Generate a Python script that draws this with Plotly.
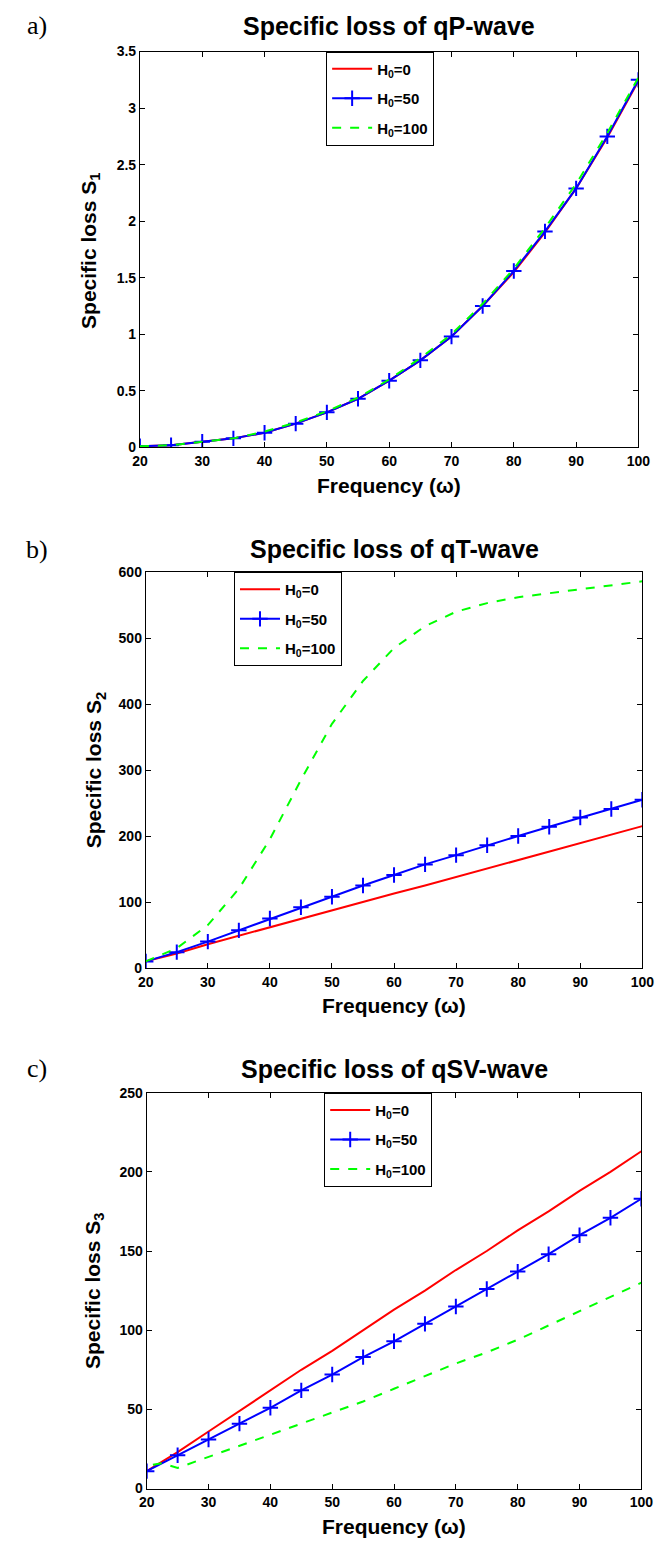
import plotly.graph_objects as go

# ---------------- data ----------------
freq = [20, 25, 30, 35, 40, 45, 50, 55, 60, 65, 70, 75, 80, 85, 90, 95, 100]

# Panel a: specific loss S1 (qP-wave)
s1_h0 = [0.01, 0.02, 0.05, 0.08, 0.13, 0.21, 0.31, 0.43, 0.59, 0.77, 0.98, 1.25, 1.55, 1.90, 2.29, 2.74, 3.24]
s1_h50 = [0.01, 0.02, 0.05, 0.08, 0.13, 0.21, 0.31, 0.43, 0.59, 0.77, 0.98, 1.25, 1.56, 1.91, 2.29, 2.75, 3.25]
s1_h100 = [0.01, 0.02, 0.05, 0.08, 0.14, 0.22, 0.32, 0.44, 0.60, 0.79, 1.00, 1.27, 1.58, 1.94, 2.33, 2.78, 3.27]

# Panel b: specific loss S2 (qT-wave)
s2_h0 = [10, 22, 36, 49, 62, 75, 88, 100, 113, 125, 138, 151, 164, 176, 189, 202, 215]
s2_h50 = [10, 24, 40, 57, 75, 92, 108, 125, 141, 157, 171, 186, 200, 214, 228, 241, 255]
s2_h100 = [10, 30, 65, 120, 195, 285, 370, 435, 485, 518, 540, 553, 562, 568, 574, 580, 586]

# Panel c: specific loss S3 (qSV-wave)
s3_h0 = [11, 23, 36, 49, 62, 75, 87, 100, 113, 125, 138, 150, 163, 175, 188, 200, 213]
s3_h50 = [11, 21, 31, 41, 51, 62, 72, 83, 93, 104, 115, 126, 137, 148, 160, 171, 183]
freq_c_h100 = [21, 22.5, 25, 30, 35, 40, 45, 50, 55, 60, 65, 70, 75, 80, 85, 90, 95, 100]
s3_h100 = [15, 16, 13, 20, 27, 34, 41, 48, 55, 63, 71, 79, 86, 94, 103, 112, 121, 130]

panel_titles = ["Specific loss of qP-wave", "Specific loss of qT-wave", "Specific loss of qSV-wave"]
panel_letters = ["a)", "b)", "c)"]
y_titles = ["Specific loss S<sub>1</sub>", "Specific loss S<sub>2</sub>", "Specific loss S<sub>3</sub>"]
x_title = "Frequency (\u03c9)"
legend_names = ["H<sub>0</sub>=0", "H<sub>0</sub>=50", "H<sub>0</sub>=100"]
y_ranges = [[0, 3.5], [0, 600], [0, 250]]
y_dticks = [0.5, 100, 50]

W, H = 665, 1549
def px_x(v):
    return v / W
def px_y(v):
    return 1 - v / H

# pixel geometry of each panel: left, right, top, bottom
boxes = [(136, 650, 44, 444), (142, 654, 570, 970), (143, 653, 1096, 1496)]
legend_pos = [(328, 44), (233, 570), (326, 1096)]
title_y = [18, 547, 1072]
xtitle_y = [482, 1008, 1534]
ytitle = [(85, 245), (90, 770), (88, 1296)]

TICKF = "Liberation Sans, Arial, Helvetica, sans-serif"
SANS = "Liberation Sans, Arial, Helvetica, sans-serif"
SERIF = "Liberation Serif, Times New Roman, serif"

fig = go.Figure()

data = [
    (freq, s1_h0, freq, s1_h50, freq, s1_h100),
    (freq, s2_h0, freq, s2_h50, freq, s2_h100),
    (freq, s3_h0, freq, s3_h50, freq_c_h100, s3_h100),
]

for i, (x0, y0, x1, y1, x2, y2) in enumerate(data):
    sfx = "" if i == 0 else str(i + 1)
    lg = "legend" if i == 0 else "legend" + str(i + 1)
    xa, ya = "x" + sfx, "y" + sfx
    fig.add_trace(go.Scatter(x=x0, y=y0, mode="lines", name=legend_names[0], legendgroup="a%d" % i,
                             line=dict(color="#ff0000", width=2), xaxis=xa, yaxis=ya, legend=lg))
    fig.add_trace(go.Scatter(x=x1, y=y1, mode="lines+markers", name=legend_names[1], legendgroup="b%d" % i,
                             line=dict(color="#0000ff", width=2),
                             marker=dict(symbol="cross-thin", size=11, color="#0000ff",
                                         line=dict(width=2, color="#0000ff")),
                             xaxis=xa, yaxis=ya, legend=lg))
    fig.add_trace(go.Scatter(x=x2, y=y2, mode="lines", name=legend_names[2], legendgroup="c%d" % i,
                             line=dict(color="#00ff00", width=2, dash="dash"),
                             xaxis=xa, yaxis=ya, legend=lg))

layout = dict(width=W, height=H, margin=dict(l=0, r=0, t=0, b=0),
              paper_bgcolor="white", plot_bgcolor="white", showlegend=True)

annotations = []
for i in range(3):
    sfx = "" if i == 0 else str(i + 1)
    l, r, t, b = boxes[i]
    axis_common = dict(showline=True, linecolor="black", linewidth=1, mirror="ticks",
                       ticks="inside", ticklen=5, tickcolor="black", showgrid=False,
                       zeroline=False, ticklabeloverflow="allow",
                       tickfont=dict(family=TICKF, size=14, color="black", weight="bold"))
    layout["xaxis" + sfx] = dict(domain=[px_x(l), px_x(r)], range=[20, 100], dtick=10, tick0=20,
                                 anchor="y" + sfx, ticklabelstandoff=1, **axis_common)
    layout["yaxis" + sfx] = dict(domain=[px_y(b), px_y(t)], range=y_ranges[i], dtick=y_dticks[i],
                                 tick0=0, anchor="x" + sfx, **axis_common)
    lx, ly = legend_pos[i]
    layout["legend" if i == 0 else "legend" + str(i + 1)] = dict(
        x=px_x(lx), y=px_y(ly), xanchor="left", yanchor="top", xref="paper", yref="paper",
        bgcolor="white", bordercolor="black", borderwidth=1, tracegroupgap=7, itemwidth=40,
        font=dict(family=TICKF, size=15, color="black", weight="bold"))
    cx = (l + r) / 2
    annotations.append(dict(text="<b>%s</b>" % panel_titles[i], x=px_x(cx), y=px_y(title_y[i]),
                            xref="paper", yref="paper", showarrow=False, xanchor="center", yanchor="middle",
                            font=dict(family=SANS, size=25, color="black")))
    annotations.append(dict(text=panel_letters[i], x=px_x(30), y=px_y(title_y[i]),
                            xref="paper", yref="paper", showarrow=False, xanchor="center", yanchor="middle",
                            font=dict(family=SERIF, size=26, color="black")))
    annotations.append(dict(text="<b>%s</b>" % x_title, x=px_x(cx), y=px_y(xtitle_y[i]),
                            xref="paper", yref="paper", showarrow=False, xanchor="center", yanchor="middle",
                            font=dict(family=SANS, size=21, color="black")))
    annotations.append(dict(text="<b>%s</b>" % y_titles[i], x=px_x(ytitle[i][0]), y=px_y(ytitle[i][1]),
                            xref="paper", yref="paper", showarrow=False, xanchor="center", yanchor="middle",
                            textangle=-90, font=dict(family=SANS, size=21, color="black")))

layout["annotations"] = annotations
fig.update_layout(**layout)
fig.write_html("out.html")
